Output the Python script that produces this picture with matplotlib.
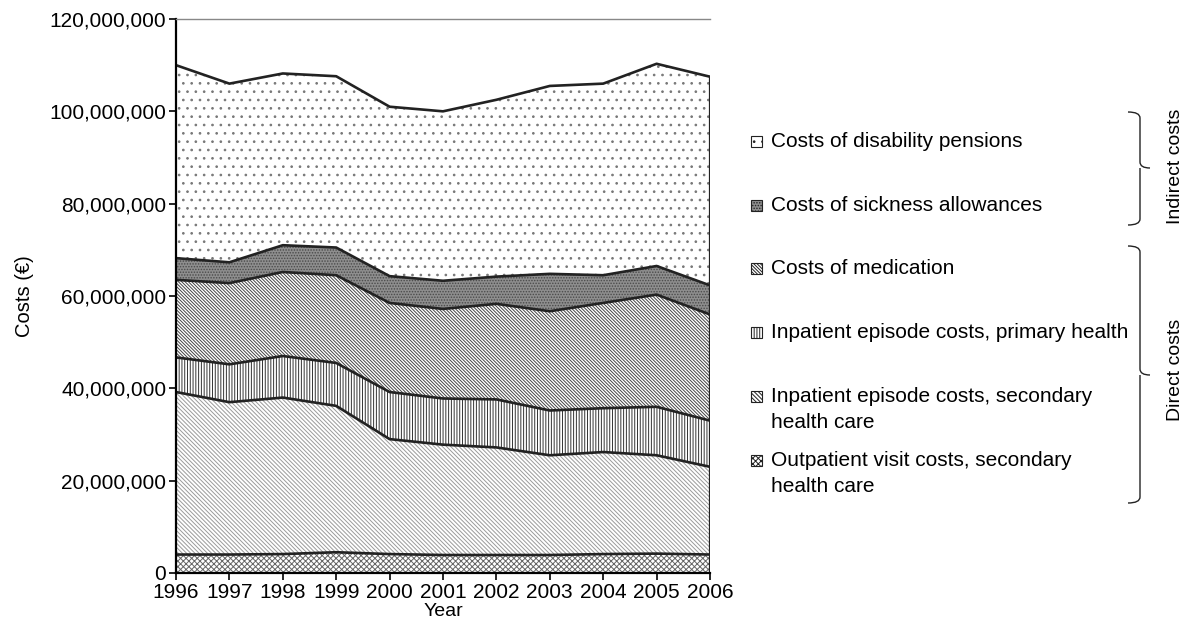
import numpy as np
import matplotlib.pyplot as plt
from matplotlib.patches import Rectangle, PathPatch
from matplotlib.path import Path
from matplotlib.ticker import FuncFormatter

plt.rcParams['font.family'] = ['Liberation Sans', 'DejaVu Sans']
plt.rcParams['hatch.linewidth'] = 0.7

years = [1996, 1997, 1998, 1999, 2000, 2001, 2002, 2003, 2004, 2005, 2006]

# costs in million euros, per component
outpatient = [4.0, 4.0, 4.1, 4.5, 4.1, 3.9, 3.9, 3.9, 4.1, 4.2, 4.0]
inpatient_secondary = [35.2, 33.0, 33.9, 31.7, 24.9, 23.9, 23.3, 21.6, 22.1, 21.3, 19.0]
inpatient_primary = [7.5, 8.2, 9.0, 9.3, 10.2, 10.0, 10.4, 9.7, 9.5, 10.5, 10.0]
medication = [16.8, 17.6, 18.2, 19.0, 19.3, 19.4, 20.7, 21.5, 22.8, 24.3, 23.0]
sickness = [4.7, 4.5, 5.8, 6.0, 5.8, 6.1, 5.9, 8.1, 6.0, 6.2, 6.3]
pensions = [41.8, 38.7, 37.2, 37.1, 36.7, 36.7, 38.3, 40.7, 41.5, 43.8, 45.2]

labels = [
    "Outpatient visit costs, secondary\nhealth care",
    "Inpatient episode costs, secondary\nhealth care",
    "Inpatient episode costs, primary health",
    "Costs of medication",
    "Costs of sickness allowances",
    "Costs of disability pensions",
]
series = [outpatient, inpatient_secondary, inpatient_primary, medication, sickness, pensions]
hatches = ['xxxxxx', '\\' * 8, '||||||', '\\' * 10, '......', '..']
hatch_colors = ['#666666', '#9a9a9a', '#333333', '#444444', '#4a4a4a', '#777777']
face_colors = ['white', 'white', 'white', 'white', '#8e8e8e', 'white']

fig = plt.figure(figsize=(11.87, 6.37), dpi=100)
ax = fig.add_axes([176 / 1187, 1 - 573 / 637, (710 - 176) / 1187, (573 - 19) / 637])

x = np.array(years)
bottom = np.zeros(len(years))
for vals, h, hc, fc in zip(series, hatches, hatch_colors, face_colors):
    top = bottom + np.array(vals) * 1e6
    ax.fill_between(x, bottom, top, facecolor=fc, edgecolor=hc, hatch=h, linewidth=0)
    ax.plot(x, top, color='#222222', lw=1.9)
    bottom = top
ax.plot([x[-1], x[-1]], [0, bottom[-1]], color='#222222', lw=1.6)

ax.set_xlim(1996, 2006)
ax.set_ylim(0, 120e6)
ax.set_xticks(years)
ax.set_yticks(np.arange(0, 121e6, 20e6))
ax.yaxis.set_major_formatter(FuncFormatter(lambda v, p: f"{v:,.0f}"))
ax.tick_params(labelsize=15, direction='out', length=5, width=1.2, pad=2)
for s in ['left', 'bottom']:
    ax.spines[s].set_linewidth(1.6)
ax.spines['right'].set_visible(False)
ax.spines['top'].set_color('#888888')
ax.spines['top'].set_linewidth(1.0)
ax.set_ylabel("Costs (€)", fontsize=14.5, labelpad=11)
ax.set_xlabel("Year", fontsize=14, labelpad=1)

# legend, drawn by hand (top entry = top layer)
W, H = 1187, 637
legend_y = [141, 205, 268, 332, 396, 460]
for i, yy in enumerate(legend_y):
    k = len(series) - 1 - i
    fig.patches.append(Rectangle((751 / W, 1 - (yy + 6) / H), 11 / W, 11 / H,
                                 transform=fig.transFigure, facecolor=face_colors[k],
                                 edgecolor='#222222', hatch=hatches[k], lw=0.8))
    fig.text(771 / W, 1 - (yy - 9) / H, labels[k], fontsize=15, va='top', ha='left',
             linespacing=1.45)


def brace(y0, y1, ym, x0=1128, x1=1140, x2=1150):
    r = 6
    verts = [(x0, y0), (x1, y0), (x1, y0 + r),
             (x1, ym - r), (x1, ym), (x2, ym),
             (x1, ym), (x1, ym + r),
             (x1, y1 - r), (x1, y1), (x0, y1)]
    codes = [Path.MOVETO, Path.CURVE3, Path.CURVE3,
             Path.LINETO, Path.CURVE3, Path.CURVE3,
             Path.MOVETO, Path.CURVE3,
             Path.LINETO, Path.CURVE3, Path.CURVE3]
    verts = [(vx / W, 1 - vy / H) for vx, vy in verts]
    fig.patches.append(PathPatch(Path(verts, codes), transform=fig.transFigure,
                                 fill=False, edgecolor='#222222', lw=1.0))


brace(112, 225, 168)
brace(246, 503, 375)
fig.text(1176 / W, 1 - 166 / H, "Indirect costs", rotation=90, fontsize=14,
         ha='center', va='center')
fig.text(1176 / W, 1 - 370 / H, "Direct costs", rotation=90, fontsize=14,
         ha='center', va='center')

fig.savefig("out.png", dpi=100)
